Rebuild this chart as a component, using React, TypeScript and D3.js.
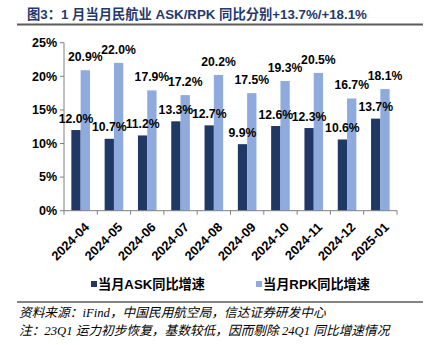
import React from "react";
import * as d3 from "d3";

const categories = ["2024-04","2024-05","2024-06","2024-07","2024-08","2024-09","2024-10","2024-11","2024-12","2025-01"];
const askValues = [12.0,10.7,11.2,13.3,12.7,9.9,12.6,12.3,10.6,13.7];
const rpkValues = [20.9,22.0,17.9,17.2,20.2,17.5,19.3,20.5,16.7,18.1];
const yTicks = [0,5,10,15,20,25];
const seriesNames = ["当月ASK同比增速","当月RPK同比增速"];
const title = "图3：1 月当月民航业 ASK/RPK 同比分别+13.7%/+18.1%";
const notes = ["资料来源：iFind，中国民用航空局，信达证券研发中心","注：23Q1 运力初步恢复，基数较低，因而剔除 24Q1 同比增速情况"];

const W = 433, H = 345;
const left = 64, right = 397, top = 42.7, bottom = 210.7;
const DARK = "#1F3864";
const LIGHT = "#8FAADC";
const font = "'Liberation Sans', Arial, sans-serif";
const cjk = "'Liberation Sans', 'Noto Sans CJK SC', sans-serif";

export default function App() {
  const x = d3.scaleBand<string>().domain(categories).range([left, right]).paddingInner(0).paddingOuter(0);
  const y = d3.scaleLinear().domain([0, 25]).range([bottom, top]);
  const bw = 9.3;
  const groupW = bw * 2;
  return (
    <svg width={W} height={H} style={{ position: "absolute", left: 0, top: 0 }}>
      <rect width={W} height={H} fill="#fff" />
      <text x={27} y={19} fontFamily={cjk} fontWeight="bold" fontSize={13.3} fill="#1F3A6E">{title}</text>
      <line x1={17} x2={423} y1={24.5} y2={24.5} stroke="#5a5a5a" strokeWidth={2} />
      {/* y axis */}
      <line x1={left} x2={left} y1={top} y2={bottom} stroke="#808080" strokeWidth={1} />
      {yTicks.map(t => (
        <g key={t}>
          <line x1={left - 4} x2={left} y1={y(t)} y2={y(t)} stroke="#808080" />
          <text x={left - 7} y={y(t)} dy="0.35em" textAnchor="end" fontFamily={font} fontWeight="bold" fontSize={12.5} fill="#000">{t}%</text>
        </g>
      ))}
      {/* bars */}
      {categories.map((c, i) => {
        const x0 = (x(c) as number) + (x.bandwidth() - groupW) / 2;
        return (
          <g key={c}>
            <rect x={x0} y={y(askValues[i])} width={bw} height={bottom - y(askValues[i])} fill={DARK} />
            <rect x={x0 + bw} y={y(rpkValues[i])} width={bw} height={bottom - y(rpkValues[i])} fill={LIGHT} />
          </g>
        );
      })}
      {/* labels */}
      {categories.map((c, i) => {
        const x0 = (x(c) as number) + (x.bandwidth() - groupW) / 2;
        return (
          <g key={"l" + c} fontFamily={font} fontWeight="bold" fontSize={12.2} fill="#000" textAnchor="middle">
            <text x={x0 + bw / 2} y={y(askValues[i]) - 7.5}>{askValues[i].toFixed(1)}%</text>
            <text x={x0 + bw * 1.5} y={y(rpkValues[i]) - 9}>{rpkValues[i].toFixed(1)}%</text>
          </g>
        );
      })}
      {/* x axis */}
      <line x1={left} x2={right} y1={bottom} y2={bottom} stroke="#808080" />
      {categories.map((c, i) => (
        <line key={"t" + c} x1={(x(c) as number) + x.bandwidth()} x2={(x(c) as number) + x.bandwidth()} y1={bottom} y2={bottom + 4} stroke="#808080" />
      ))}
      <line x1={left} x2={left} y1={bottom} y2={bottom + 4} stroke="#808080" />
      {categories.map(c => {
        const cx = (x(c) as number) + x.bandwidth() / 2 + 3;
        const cy = bottom + 11;
        return (
          <text key={"x" + c} x={cx} y={cy} textAnchor="end" dy="0.7em" transform={`rotate(-45 ${cx} ${cy})`} fontFamily={font} fontWeight="bold" fontSize={12.8} fill="#000">{c}</text>
        );
      })}
      {/* legend */}
      <rect x={91} y={281} width={6} height={6} fill={DARK} />
      <text x={98} y={288.5} fontFamily={cjk} fontWeight="bold" fontSize={13.2} fill="#000">{seriesNames[0]}</text>
      <rect x={256} y={281} width={6} height={6} fill={LIGHT} />
      <text x={263} y={288.5} fontFamily={cjk} fontWeight="bold" fontSize={13.2} fill="#000">{seriesNames[1]}</text>
      <line x1={17} x2={423} y1={302} y2={302} stroke="#5a5a5a" strokeWidth={1.5} />
      <text x={19} y={317} fontFamily="'Liberation Serif', 'Noto Sans CJK SC', serif" fontStyle="italic" fontSize={12.7} fill="#000">{notes[0]}</text>
      <text x={19} y={335} fontFamily="'Liberation Serif', 'Noto Sans CJK SC', serif" fontStyle="italic" fontSize={12.7} fill="#000">{notes[1]}</text>
    </svg>
  );
}
